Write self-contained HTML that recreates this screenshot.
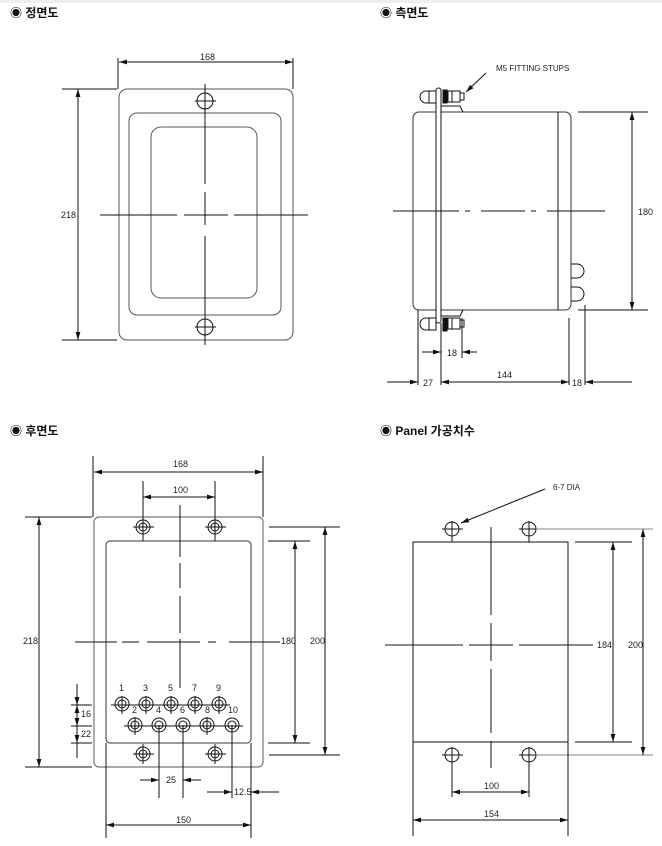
<!DOCTYPE html>
<html><head><meta charset="utf-8"><style>
body{margin:0;background:#fff;width:662px;height:846px;overflow:hidden}
svg{display:block}
text{font-family:"Liberation Sans","Noto Sans CJK KR",sans-serif;font-size:9px;fill:#222}
.t{font-size:12px;font-weight:bold;fill:#111}
</style></head><body>
<svg width="662" height="846" viewBox="0 0 662 846" xmlns="http://www.w3.org/2000/svg">
<defs>
<marker id="a" viewBox="0 0 10 6" refX="10" refY="3" markerWidth="8" markerHeight="5" orient="auto-start-reverse"><path d="M0,0L10,3L0,6z" fill="#111"/></marker>
</defs>
<rect x="0" y="0" width="662" height="3" fill="#eee"/>
<g class="t">
<text class="t" x="10" y="17">◉ 정면도</text>
<text class="t" x="380" y="17">◉ 측면도</text>
<text class="t" x="10" y="435">◉ 후면도</text>
<text class="t" x="380" y="435">◉ Panel 가공치수</text>
</g>
<g fill="none" stroke="#111" stroke-width="1">
<!-- FRONT -->
<rect x="119" y="89" width="174" height="251" rx="8" stroke="#555"/>
<rect x="129" y="113" width="152" height="202" rx="8" stroke="#555"/>
<rect x="151" y="127" width="106" height="171" rx="10" stroke="#555"/>
<circle cx="205" cy="101" r="8"/><circle cx="205" cy="327" r="8"/>
<path d="M205 84V184M205 192V225M205 236V345M195 101H216M195 327H216M100 215H177M184 215H228M234 215H308"/>
<path d="M119 62H293" marker-start="url(#a)" marker-end="url(#a)"/>
<path d="M118 58V89M293 58V89M62 89H117M62 340H117"/>
<path d="M78 89V340" marker-start="url(#a)" marker-end="url(#a)"/>
<!-- SIDE -->
<rect x="413" y="112" width="158" height="198" rx="6" stroke="#333"/>
<path d="M558 112V310"/>
<rect x="436" y="88" width="5" height="235" rx="2.5" fill="#fff"/>
<path d="M441 106H460L463 112M441 316H460L463 310"/>
<path d="M426 91a6 6 0 0 0 0 12h10v-12z M426 91h3v12M448 91h12v11h-12z M452 91v11M460 93h4v7h-4"/>
<rect x="443" y="90" width="4" height="13" fill="#111"/>
<path d="M426 318a6 6 0 0 0 0 12h10v-12z M426 318h3v12M448 318h12v11h-12z M452 318v11M460 320h4v7h-4"/>
<rect x="443" y="318" width="4" height="13" fill="#111"/>
<path d="M571 264h6a6 6 0 0 1 0 14h-6M571 287h6a6 6 0 0 1 0 14h-6"/>
<path d="M393 211H459M465 211H470M481 211H525M531 211H536M547 211H605"/>
<path d="M578 112H648M578 310H648"/>
<path d="M632 112V310" marker-start="url(#a)" marker-end="url(#a)"/>
<path d="M486 73L466 92" marker-end="url(#a)"/>
<path d="M418 310V385M441 323V385M462 318V358M569 318V385M585 305V385"/>
<path d="M422 352H441" marker-end="url(#a)"/><path d="M477 352H462" marker-end="url(#a)"/>
<path d="M387 382H418" marker-end="url(#a)"/>
<path d="M441 382H569" marker-start="url(#a)" marker-end="url(#a)"/>
<path d="M632 382H585" marker-end="url(#a)"/>
<!-- BACK -->
<rect x="94" y="517" width="169" height="250" rx="5" stroke="#777" stroke-width="1.2"/>
<rect x="106" y="541" width="145" height="202" rx="4" stroke="#333"/>
<g>
<circle cx="143" cy="527" r="7"/><circle cx="143" cy="527" r="4"/>
<circle cx="215" cy="527" r="7"/><circle cx="215" cy="527" r="4"/>
<circle cx="143" cy="754" r="7"/><circle cx="143" cy="754" r="4"/>
<circle cx="215" cy="754" r="7"/><circle cx="215" cy="754" r="4"/>
<path d="M133 527H154M205 527H226M133 754H154M205 754H226M143 481V541M215 481V541M143 744V764M215 744V764"/>
</g>
<g>
<circle cx="122" cy="704" r="7"/><circle cx="122" cy="704" r="4"/>
<circle cx="146" cy="704" r="7"/><circle cx="146" cy="704" r="4"/>
<circle cx="171" cy="704" r="7"/><circle cx="171" cy="704" r="4"/>
<circle cx="195" cy="704" r="7"/><circle cx="195" cy="704" r="4"/>
<circle cx="219" cy="704" r="7"/><circle cx="219" cy="704" r="4"/>
<circle cx="135" cy="725" r="7"/><circle cx="135" cy="725" r="4"/>
<circle cx="159" cy="725" r="7"/><circle cx="159" cy="725" r="4"/>
<circle cx="183" cy="725" r="7"/><circle cx="183" cy="725" r="4"/>
<circle cx="207" cy="725" r="7"/><circle cx="207" cy="725" r="4"/>
<circle cx="232" cy="725" r="7"/><circle cx="232" cy="725" r="4"/>
<path d="M111 705H230M124 726H243"/>
<path d="M122 696V714M146 696V714M171 696V714M195 696V714M219 696V714M135 717V735M207 717V735"/>
</g>
<path d="M180 505V557M180 563V588M180 596V633M180 639V688"/>
<path d="M75 642H117M122 642H139M147 642H200M208 642H216M229 642H280"/>
<path d="M94 472H263" marker-start="url(#a)" marker-end="url(#a)"/>
<path d="M93 456V517M263 456V517M25 517H92M25 767H92"/>
<path d="M143 497H215" marker-start="url(#a)" marker-end="url(#a)"/>
<path d="M39 517V767" marker-start="url(#a)" marker-end="url(#a)"/>
<path d="M268 541H310M268 743H310M269 527H340M269 755H340"/>
<path d="M295 541V743" marker-start="url(#a)" marker-end="url(#a)"/>
<path d="M325 527V755" marker-start="url(#a)" marker-end="url(#a)"/>
<path d="M71 705H92M71 726H92M71 743H92M77 684V705M77 705V726M77 726V743M77 743V758"/>
<path d="M77 697V705" marker-end="url(#a)"/><path d="M77 713V705" marker-end="url(#a)"/>
<path d="M77 718V726" marker-end="url(#a)"/><path d="M77 735V743" marker-end="url(#a)"/>
<path d="M159 725V798M183 725V798M232 725V798M251 743V838M106 743V838"/>
<path d="M140 780H159" marker-end="url(#a)"/><path d="M201 780H183" marker-end="url(#a)"/>
<path d="M207 792H232" marker-end="url(#a)"/><path d="M279 792H251" marker-end="url(#a)"/>
<path d="M106 825H251" marker-start="url(#a)" marker-end="url(#a)"/>
<!-- PANEL -->
<rect x="413" y="542" width="155" height="200"/>
<circle cx="452" cy="529" r="7"/><circle cx="529" cy="529" r="7"/>
<circle cx="452" cy="755" r="7"/><circle cx="529" cy="755" r="7"/>
<path d="M442 529H463M519 529H536M442 755H463M519 755H536M452 521V542M529 521V542M452 747V797M529 747V797"/>
<path d="M491 527V615M491 623V661M491 669V733M491 741V768"/>
<path d="M385 645H463M469 645H513M519 645H593"/>
<path d="M575 542H632M575 742H632"/>
<path d="M536 529H653M536 755H653" stroke="#888"/>
<path d="M613 542V742" marker-start="url(#a)" marker-end="url(#a)"/>
<path d="M643 529V755" marker-start="url(#a)" marker-end="url(#a)"/>
<path d="M452 792H529" marker-start="url(#a)" marker-end="url(#a)"/>
<path d="M413 742V836M568 742V836"/>
<path d="M413 820H568" marker-start="url(#a)" marker-end="url(#a)"/>
<path d="M545 489L461 523" marker-end="url(#a)"/>
</g>
<g>
<text x="200" y="60">168</text>
<text x="61" y="218">218</text>
<text x="496" y="71" style="font-size:8px">M5 FITTING STUPS</text>
<text x="638" y="215">180</text>
<text x="447" y="356">18</text>
<text x="423" y="386">27</text>
<text x="497" y="378">144</text>
<text x="572" y="386">18</text>
<text x="173" y="467">168</text>
<text x="173" y="493">100</text>
<text x="23" y="644">218</text>
<text x="281" y="644">180</text>
<text x="310" y="644">200</text>
<text x="119" y="691">1</text><text x="143" y="691">3</text><text x="168" y="691">5</text><text x="192" y="691">7</text><text x="216" y="691">9</text>
<text x="132" y="713">2</text><text x="156" y="713">4</text><text x="180" y="713">6</text><text x="205" y="713">8</text><text x="228" y="713">10</text>
<text x="81" y="717">16</text><text x="81" y="737">22</text>
<text x="166" y="783">25</text>
<text x="234" y="795">12.5</text>
<text x="176" y="823">150</text>
<text x="553" y="490" style="font-size:8px">6-7 DIA</text>
<text x="597" y="648">184</text>
<text x="628" y="648">200</text>
<text x="484" y="789">100</text>
<text x="484" y="817">154</text>
</g>
</svg>
</body></html>
